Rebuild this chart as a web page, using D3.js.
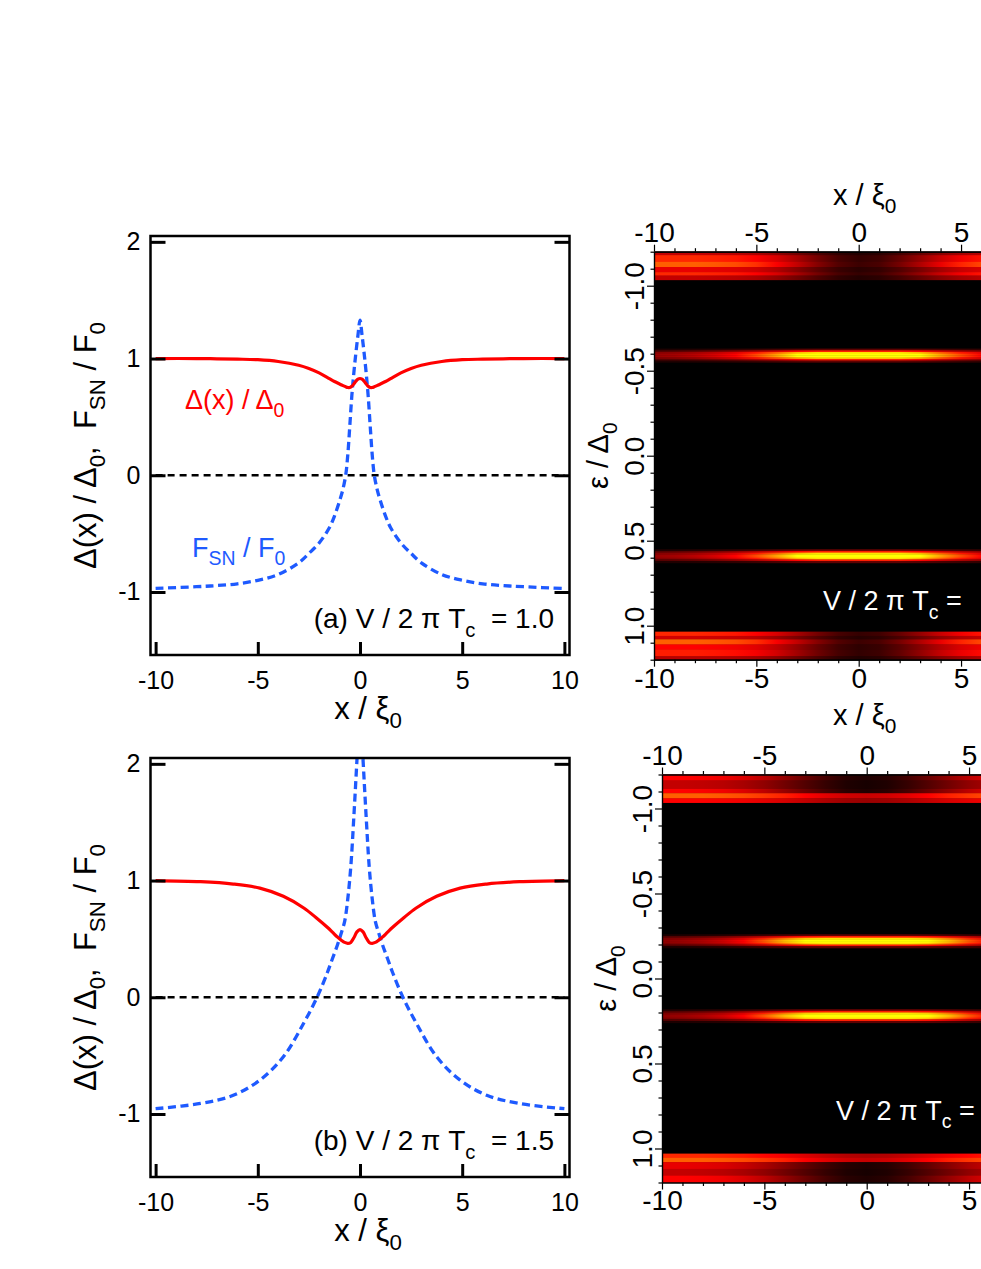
<!DOCTYPE html>
<html lang="en">
<head>
<meta charset="UTF-8">
<title>Pair potential, F_SN and LDOS maps</title>
<script src="https://cdnjs.cloudflare.com/ajax/libs/d3/7.8.5/d3.min.js"></script>
<style>
  * { margin: 0; padding: 0; }
  body { background: #fff; width: 981px; height: 1269px; overflow: hidden; }
  svg { display: block; font-family: "Liberation Sans", Arial, Helvetica, sans-serif; }
</style>
</head>
<body>
<svg id="chart" width="981" height="1269"></svg>
<script>
// ---- line panels: x / xi0 and the two curves ----
var xA = [-10, -8, -7, -6, -5, -4, -3, -2.5, -2, -1.5, -1.25, -1, -0.85, -0.7, -0.6, -0.5, -0.4, -0.3, -0.2, -0.1,
  0, 0.1, 0.2, 0.3, 0.4, 0.5, 0.6, 0.7, 0.85, 1, 1.25, 1.5, 2, 2.5, 3, 4, 5, 6, 7, 8, 10];
var gapA = [1.0, 1.0, 0.998, 0.995, 0.99, 0.975, 0.943, 0.915, 0.877, 0.828, 0.803, 0.782, 0.77, 0.758, 0.752, 0.752, 0.762, 0.783, 0.806, 0.823,
  0.829, 0.823, 0.806, 0.783, 0.762, 0.752, 0.752, 0.758, 0.77, 0.782, 0.803, 0.828, 0.877, 0.915, 0.943, 0.975, 0.99, 0.995, 0.998, 1.0, 1.0];
var fsnA = [-0.97, -0.955, -0.945, -0.93, -0.9, -0.85, -0.75, -0.67, -0.58, -0.45, -0.35, -0.22, -0.13, 0.0, 0.17, 0.42, 0.68, 0.88, 1.05, 1.2,
  1.33, 1.2, 1.05, 0.88, 0.68, 0.42, 0.17, 0.0, -0.13, -0.22, -0.35, -0.45, -0.58, -0.67, -0.75, -0.85, -0.9, -0.93, -0.945, -0.955, -0.97];

var xB = [-10, -7.8, -6.2, -4.9, -3.75, -2.75, -2.1, -1.6, -1.35, -1.1, -0.9, -0.75, -0.6, -0.45, -0.3, -0.15,
  0, 0.15, 0.3, 0.45, 0.6, 0.75, 0.9, 1.1, 1.35, 1.6, 2.1, 2.75, 3.75, 4.9, 6.2, 7.8, 10];
var gapB = [1.0, 0.99, 0.97, 0.935, 0.865, 0.765, 0.675, 0.6, 0.558, 0.515, 0.487, 0.47, 0.462, 0.47, 0.51, 0.56,
  0.58, 0.56, 0.51, 0.47, 0.462, 0.47, 0.487, 0.515, 0.558, 0.6, 0.675, 0.765, 0.865, 0.935, 0.97, 0.99, 1.0];
var fsnB = [-0.955, -0.91, -0.84, -0.71, -0.51, -0.22, 0.0, 0.21, 0.33, 0.45, 0.56, 0.65, 0.84, 1.12, 1.55, 2.03,
  2.5, 2.03, 1.55, 1.12, 0.84, 0.65, 0.56, 0.45, 0.33, 0.21, 0.0, -0.22, -0.51, -0.71, -0.84, -0.91, -0.955];

var zeroLine = [-10, 10];
var xTicks = [-10, -5, 0, 5, 10];
var heatXTicks = [-10, -5, 0, 5];
var xMinor = [-9, -8, -7, -6, -4, -3, -2, -1, 1, 2, 3, 4, 6, 7, 8, 9];
var yTicks = [-1, 0, 1, 2];

// ---- LDOS maps: rows of intensity sampled along x ----
var heatX = [-10, -9, -8, -7, -6, -5, -4, -3, -2, -1, 0, 1, 2, 3, 4, 5, 6, 7, 8, 9, 10];
var epsTicks = [-1, -0.5, 0, 0.5, 1];
var epsMinor = [-1.2, -1.1, -0.9, -0.8, -0.7, -0.6, -0.4, -0.3, -0.2, -0.1, 0.1, 0.2, 0.3, 0.4, 0.6, 0.7, 0.8, 0.9, 1.1, 1.2];
var lineOffsets = [-0.035, -0.025, -0.015, -0.005, 0.005, 0.015, 0.025, 0.035];
var lineWeights = [0.2, 0.6, 0.95, 1.1, 1.1, 0.95, 0.6, 0.2];

var boundLevelsA = [-0.59, 0.59];
var boundProfA = [0.3, 0.32, 0.36, 0.42, 0.5, 0.62, 0.76, 0.92, 1, 1, 1, 1, 1, 0.92, 0.76, 0.62, 0.5, 0.42, 0.36, 0.32, 0.3];
var bandProfA = [1, 1, 1, 0.98, 0.95, 0.88, 0.75, 0.58, 0.4, 0.25, 0.18, 0.22, 0.35, 0.52, 0.7, 0.85, 0.94, 0.98, 1, 1, 1];
// [eps from, eps to, peak, profile]
var bandRowsA = [[-1.2, -1.18, 0.42, 0], [-1.18, -1.14, 0.62, 0], [-1.14, -1.11, 0.72, 0], [-1.11, -1.08, 0.5, 0],
  [-1.08, -1.06, 0.62, 0], [-1.06, -1.035, 0.42, 0],
  [1.035, 1.06, 0.62, 0], [1.06, 1.08, 0.45, 0], [1.08, 1.11, 0.72, 0], [1.11, 1.14, 0.55, 0],
  [1.14, 1.18, 0.6, 0], [1.18, 1.2, 0.4, 0]];

var boundLevelsB = [-0.22, 0.22];
var boundProfB = [0.28, 0.3, 0.34, 0.4, 0.5, 0.64, 0.8, 0.95, 1, 1, 1, 1, 1, 0.95, 0.8, 0.64, 0.5, 0.4, 0.34, 0.3, 0.28];
var bandProfB = [1, 1, 0.98, 0.94, 0.86, 0.74, 0.58, 0.42, 0.27, 0.16, 0.12, 0.16, 0.27, 0.42, 0.58, 0.74, 0.86, 0.94, 0.98, 1, 1];
var bandEdgeProfB = [1, 1, 1, 0.98, 0.95, 0.9, 0.84, 0.76, 0.68, 0.62, 0.6, 0.62, 0.68, 0.76, 0.84, 0.9, 0.95, 0.98, 1, 1, 1];
var bandRowsB = [[-1.2, -1.165, 0.55, 0], [-1.165, -1.115, 0.42, 0], [-1.115, -1.09, 0.55, 0], [-1.09, -1.06, 0.72, 1],
  [-1.06, -1.035, 0.55, 1],
  [1.03, 1.055, 0.62, 1], [1.055, 1.08, 0.72, 1], [1.08, 1.12, 0.5, 0], [1.12, 1.16, 0.42, 0], [1.16, 1.2, 0.55, 0]];

var svg = d3.select('#chart');
var defs = svg.append('defs');
var hot = d3.scaleLinear()
  .domain([0, 0.3, 0.55, 0.8, 1])
  .range(['#000000', '#8b0000', '#ff0000', '#ff8c00', '#ffff00'])
  .clamp(true);
var gradCount = 0;

// text with subscripts: parts = [[string, 'sub'?], ...]
function rich(sel, parts, fs) {
  var shift = 0;
  parts.forEach(function(p) {
    var want = p[1] === 'sub' ? fs * 0.3 : 0;
    var ts = sel.append('tspan').text(p[0]).attr('dy', want - shift);
    if (p[1] === 'sub') ts.attr('font-size', fs * 0.72);
    shift = want;
  });
  return sel;
}

function styleAxis(g, fs) {
  g.attr('font-family', null).attr('font-size', fs);
  g.selectAll('text').attr('fill', '#000');
  g.selectAll('line').attr('stroke', '#000');
  g.select('.domain').attr('stroke', '#000');
}

function linePanel(top, bottom, xs, gap, fsn, label, note) {
  var x = d3.scaleLinear().domain([-10.25, 10.25]).range([150.5, 569.5]);
  var y = d3.scaleLinear().domain([-1.54, 2.05]).range([bottom, top]);
  var id = 'clip' + top;
  defs.append('clipPath').attr('id', id).append('rect')
    .attr('x', x(-10.25)).attr('y', y(2.05)).attr('width', x(10.25) - x(-10.25)).attr('height', y(-1.54) - y(2.05));
  var g = svg.append('g');
  var plot = g.append('g').attr('clip-path', 'url(#' + id + ')');

  plot.append('path')
    .datum(zeroLine)
    .attr('d', d3.line().x(function(d) { return x(d); }).y(function() { return y(0); }))
    .attr('fill', 'none').attr('stroke', '#000').attr('stroke-width', 2.6).attr('stroke-dasharray', '7,5');

  var line = d3.line().curve(d3.curveCatmullRom.alpha(0.5))
    .x(function(d, i) { return x(xs[i]); })
    .y(function(d) { return y(d); });
  plot.append('path').datum(fsn).attr('d', line)
    .attr('fill', 'none').attr('stroke', '#1e5aff').attr('stroke-width', 3.3).attr('stroke-dasharray', '8,4.5');
  plot.append('path').datum(gap).attr('d', line)
    .attr('fill', 'none').attr('stroke', '#ff0000').attr('stroke-width', 3.2);

  var ax = g.append('g').attr('transform', 'translate(0,' + bottom + ')')
    .call(d3.axisBottom(x).tickValues(xTicks).tickSize(-13).tickSizeOuter(0).tickPadding(16).tickFormat(function(d) { return String(d); }));
  styleAxis(ax, 25);
  ax.select('.domain').remove();
  ax.selectAll('line').attr('stroke-width', 3);

  var ay = g.append('g').attr('transform', 'translate(' + x(-10.25) + ',0)')
    .call(d3.axisLeft(y).tickValues(yTicks).tickSize(-15).tickSizeOuter(0).tickPadding(10).tickFormat(function(d) { return String(d); }));
  styleAxis(ay, 25);
  ay.select('.domain').remove();
  ay.selectAll('line').attr('stroke-width', 3);

  var ar = g.append('g').attr('transform', 'translate(' + x(10.25) + ',0)')
    .call(d3.axisRight(y).tickValues(yTicks).tickSize(-15).tickSizeOuter(0).tickFormat(''));
  styleAxis(ar, 25);
  ar.select('.domain').remove();
  ar.selectAll('line').attr('stroke-width', 3);

  g.append('rect')
    .attr('x', x(-10.25)).attr('y', y(2.05)).attr('width', x(10.25) - x(-10.25)).attr('height', y(-1.54) - y(2.05))
    .attr('fill', 'none').attr('stroke', '#000').attr('stroke-width', 2.5);

  // axis titles
  rich(g.append('text').attr('x', 368).attr('y', bottom + 64).attr('text-anchor', 'middle').attr('font-size', 31),
    [['x / \u03be'], ['0', 'sub']], 31);
  rich(g.append('text').attr('text-anchor', 'middle').attr('font-size', 31)
    .attr('transform', 'translate(96,' + (top + bottom) / 2 + ') rotate(-90)'),
    [['\u0394(x) / \u0394'], ['0', 'sub'], [',\u00a0\u00a0F'], ['SN', 'sub'], [' / F'], ['0', 'sub']], 31);

  if (label) {
    rich(g.append('text').attr('x', 185).attr('y', y(0.57)).attr('font-size', 27).attr('fill', '#ff0000'),
      [['\u0394(x) / \u0394'], ['0', 'sub']], 27);
    rich(g.append('text').attr('x', 192).attr('y', y(-0.7)).attr('font-size', 27).attr('fill', '#1e5aff'),
      [['F'], ['SN', 'sub'], [' / F'], ['0', 'sub']], 27);
  }
  rich(g.append('text').attr('x', 554).attr('y', y(-1.31)).attr('text-anchor', 'end').attr('font-size', 28),
    [[note[0] + ' V / 2 \u03c0 T'], ['c', 'sub'], ['\u00a0 = ' + note[1]]], 28);
}

function rowFill(x, weights) {
  var id = 'grad' + (gradCount++);
  var x0 = heatX[0], x1 = heatX[heatX.length - 1];
  var grad = defs.append('linearGradient').attr('id', id).attr('gradientUnits', 'userSpaceOnUse')
    .attr('x1', x(x0)).attr('x2', x(x1)).attr('y1', 0).attr('y2', 0);
  grad.selectAll('stop').data(heatX).enter().append('stop')
    .attr('offset', function(d) { return (x(d) - x(x0)) / (x(x1) - x(x0)); })
    .attr('stop-color', function(d, i) { return hot(weights[i]); });
  return 'url(#' + id + ')';
}

function heatPanel(p) {
  var x = d3.scaleLinear().domain([-10, 10]).range([p.left, p.left + 409.4]);
  var y = d3.scaleLinear().domain([-1.2, 1.2]).range([p.top, p.bottom]);
  var g = svg.append('g');
  g.append('rect').attr('x', x(-10)).attr('y', y(-1.2))
    .attr('width', x(10) - x(-10)).attr('height', y(1.2) - y(-1.2)).attr('fill', '#000');

  var half = (lineOffsets[1] - lineOffsets[0]) / 2;
  var rows = [];
  p.bands.forEach(function(r) {
    rows.push({ e0: r[0], e1: r[1], w: p.profs[r[3]].map(function(v) { return v * r[2]; }) });
  });
  p.levels.forEach(function(L) {
    lineOffsets.forEach(function(o, k) {
      rows.push({ e0: L + o - half, e1: L + o + half, w: p.bound.map(function(v) { return v * lineWeights[k]; }) });
    });
  });
  g.selectAll('rect.row').data(rows).enter().append('rect').attr('class', 'row')
    .attr('x', x(-10)).attr('width', x(10) - x(-10))
    .attr('y', function(d) { return y(d.e0); })
    .attr('height', function(d) { return y(d.e1) - y(d.e0) + 0.4; })
    .attr('fill', function(d) { return rowFill(x, d.w); });

  var fmt = function(d) { return String(d); };
  [[d3.axisTop, p.top], [d3.axisBottom, p.bottom]].forEach(function(a) {
    var major = g.append('g').attr('transform', 'translate(0,' + a[1] + ')')
      .call(a[0](x).tickValues(heatXTicks).tickSize(7).tickSizeOuter(0).tickPadding(a[0] === d3.axisTop ? 3 : 1).tickFormat(fmt));
    styleAxis(major, 28);
    major.selectAll('line, .domain').attr('stroke-width', 1.2);
    var minor = g.append('g').attr('transform', 'translate(0,' + a[1] + ')')
      .call(a[0](x).tickValues(xMinor).tickSize(3.5).tickSizeOuter(0).tickFormat(''));
    styleAxis(minor, 28);
    minor.selectAll('line, .domain').attr('stroke-width', 1.2);
  });

  var ay = g.append('g').attr('transform', 'translate(' + x(-10) + ',0)')
    .call(d3.axisLeft(y).tickValues(epsTicks).tickSize(7).tickSizeOuter(0).tickFormat(function(d) { return d.toFixed(1); }));
  styleAxis(ay, 28);
  ay.selectAll('line, .domain').attr('stroke-width', 1.2);
  ay.selectAll('text').attr('x', 0).attr('dy', 0).attr('text-anchor', 'middle')
    .attr('transform', 'translate(-10,0) rotate(-90)');
  var ayMinor = g.append('g').attr('transform', 'translate(' + x(-10) + ',0)')
    .call(d3.axisLeft(y).tickValues(epsMinor).tickSize(3.5).tickSizeOuter(0).tickFormat(''));
  styleAxis(ayMinor, 28);
  ayMinor.selectAll('line, .domain').attr('stroke-width', 1.2);

  rich(g.append('text').attr('text-anchor', 'middle').attr('font-size', 29)
    .attr('transform', 'translate(' + (x(-10) - 46) + ',' + (p.top + p.bottom) / 2 + ') rotate(-90)'),
    [['\u03b5 / \u0394'], ['0', 'sub']], 29);

  if (p.titleTop) {
    rich(g.append('text').attr('x', x(0) + 6).attr('y', p.top - 47).attr('text-anchor', 'middle').attr('font-size', 29),
      [['x / \u03be'], ['0', 'sub']], 29);
  }
  if (p.titleBottom) {
    rich(g.append('text').attr('x', x(0) + 6).attr('y', p.bottom + 65).attr('text-anchor', 'middle').attr('font-size', 29),
      [['x / \u03be'], ['0', 'sub']], 29);
  }
  // only the part of the label that lies inside the visible map
  rich(g.append('text').attr('x', p.noteX).attr('y', y(p.noteEps)).attr('font-size', 27).attr('fill', '#fff'),
    [['V / 2 \u03c0 T'], ['c', 'sub'], ['\u00a0=']], 27);
}

linePanel(236, 655, xA, gapA, fsnA, true, ['(a)', '1.0']);
linePanel(758, 1177, xB, gapB, fsnB, false, ['(b)', '1.5']);

heatPanel({ left: 654, top: 251.7, bottom: 659.7, levels: boundLevelsA, bound: boundProfA,
  bands: bandRowsA, profs: [bandProfA], noteX: 823, noteEps: 0.91, titleTop: true, titleBottom: true });
heatPanel({ left: 662, top: 774.5, bottom: 1182.5, levels: boundLevelsB, bound: boundProfB,
  bands: bandRowsB, profs: [bandProfB, bandEdgeProfB], noteX: 836, noteEps: 0.83, titleTop: false, titleBottom: false });
</script>
</body>
</html>
